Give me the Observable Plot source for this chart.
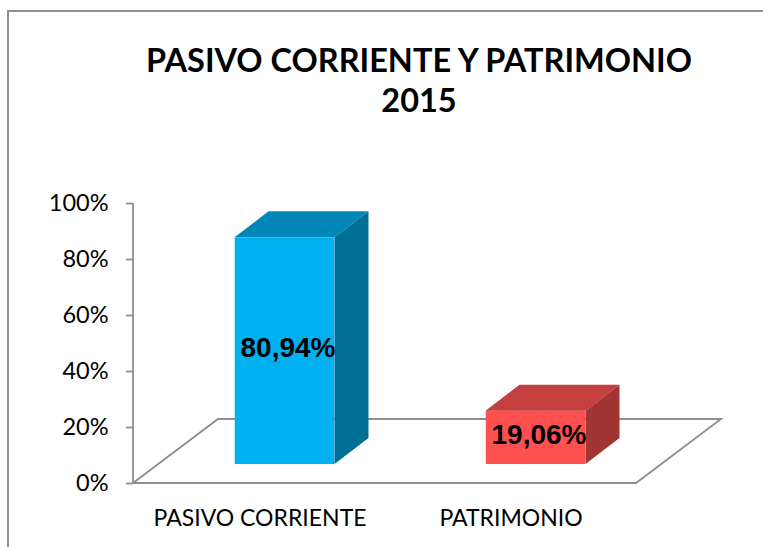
<!DOCTYPE html>
<html>
<head>
<meta charset="utf-8">
<script src="https://cdn.jsdelivr.net/npm/d3@7"></script>
<script src="https://cdn.jsdelivr.net/npm/@observablehq/plot@0.6"></script>
<style>
  html, body { margin: 0; padding: 0; background: #fff; }
  #wrap { position: relative; width: 763px; height: 547px; overflow: hidden; background: #fff; }
  #frame { position: absolute; left: 7px; top: 10px; right: -10px; bottom: -10px;
           border-top: 2px solid #8e8e8e; border-left: 2px solid #8e8e8e; }
  #title { position: absolute; left: 419px; top: 40px; transform: translateX(-50%);
           font-family: Lato, sans-serif; font-weight: 700; font-size: 32.5px; line-height: 40px;
           text-align: center; white-space: nowrap; color: #000; }
  #chart { position: absolute; left: 0; top: 0; }
</style>
</head>
<body>
<div id="wrap">
  <div id="frame"></div>
  <div id="chart"></div>
  <div id="title">PASIVO CORRIENTE Y PATRIMONIO<br>2015</div>
</div>
<script>
// ---- data ----
const categories = ["PASIVO CORRIENTE", "PATRIMONIO"];
const values = [0.8094, 0.1906];
const frontColors = ["#00B0F0", "#FF5050"];
const topColors = ["#0087B8", "#C53F3F"];
const sideColors = ["#006F95", "#A33434"];
const yTicks = [0, 0.2, 0.4, 0.6, 0.8, 1];
const yTickLabels = ["0%", "20%", "40%", "60%", "80%", "100%"];

const locale = d3.formatLocale({decimal: ",", thousands: ".", grouping: [3], currency: ["", "€"]});
const pct = locale.format(".2%");
const data = categories.map((c, i) => ({cat: c, value: values[i], label: pct(values[i]), i}));

// ---- 3D geometry (pixels) ----
const FLOOR_DX = 85, FLOOR_DY = -64;     // floor depth
const BAR_OX = 25, BAR_OY = -19;          // bar front offset from floor front
const BAR_DX = 34, BAR_DY = -26;          // bar depth
const BAR_W = 100;
const GRID = "#8e8e8e";

const svgNS = "http://www.w3.org/2000/svg";
function el(name, attrs) {
  const e = document.createElementNS(svgNS, name);
  for (const k in attrs) e.setAttribute(k, attrs[k]);
  return e;
}
function bandwidthOf(x) {
  if (typeof x.bandwidth === "function") return x.bandwidth();
  if (typeof x.bandwidth === "number") return x.bandwidth;
  return x(categories[1]) - x(categories[0]);
}

// floor + y axis line
function floorMark(index, scales, values, dims) {
  const {y} = scales;
  const g = el("g", {fill: "none", stroke: GRID, "stroke-width": 1.8});
  const x0 = dims.marginLeft, x1 = dims.width - dims.marginRight, y0 = y(0);
  g.appendChild(el("polygon", {points: [
    [x0, y0], [x0 + FLOOR_DX, y0 + FLOOR_DY], [x1 + FLOOR_DX, y0 + FLOOR_DY], [x1, y0]
  ].map(p => p.join(",")).join(" "), "stroke-linejoin": "miter"}));
  g.appendChild(el("line", {x1: x0, x2: x0, y1: y(1), y2: y0}));
  return g;
}

// top and side faces of each bar
function facesMark(index, scales, values, dims) {
  const {x, y} = scales;
  const bw = bandwidthOf(x);
  const g = el("g", {});
  for (const d of data) {
    const cx = x(d.cat) + bw / 2 + BAR_OX;
    const l = cx - BAR_W / 2, r = cx + BAR_W / 2;
    const t = y(d.value) + BAR_OY, b = y(0) + BAR_OY;
    const poly = (pts, fill) => g.appendChild(el("polygon", {
      points: pts.map(p => p.join(",")).join(" "), fill
    }));
    poly([[l, t], [l + BAR_DX, t + BAR_DY], [r + BAR_DX, t + BAR_DY], [r, t]], topColors[d.i]);
    poly([[r, t], [r + BAR_DX, t + BAR_DY], [r + BAR_DX, b + BAR_DY], [r, b]], sideColors[d.i]);
  }
  return g;
}

const chart = Plot.plot({
  width: 763,
  height: 547,
  marginLeft: 133,
  marginRight: 127,
  marginTop: 203,
  marginBottom: 64,
  style: {background: "transparent", overflow: "visible"},
  x: {domain: categories, padding: 0},
  y: {domain: [0, 1]},
  marks: [
    floorMark,
    Plot.axisY({
      ticks: yTicks,
      tickFormat: (d, i) => yTickLabels[yTicks.indexOf(d)],
      tickSize: 7,
      tickPadding: 18,
      stroke: GRID,
      strokeWidth: 1.8,
      fill: "#000",
      fontSize: 23.5,
      fontFamily: "Lato, sans-serif",
      label: null
    }),
    Plot.axisX({
      tickSize: 0,
      tickPadding: 26,
      fill: "#000",
      fontSize: 23,
      fontFamily: "Lato, sans-serif",
      label: null
    }),
    Plot.barY(data, {
      x: "cat",
      y: "value",
      fill: d => frontColors[d.i],
      insetLeft: 75.75,
      insetRight: 75.75,
      dx: BAR_OX,
      dy: BAR_OY
    }),
    facesMark,
    Plot.text(data, {
      x: "cat",
      y: d => d.value / 2,
      text: "label",
      dx: BAR_OX + 3,
      dy: BAR_OY - 3,
      fill: "#000",
      fontSize: 28,
      fontWeight: "bold",
      fontFamily: "Liberation Sans, Arial, sans-serif"
    })
  ]
});
document.getElementById("chart").appendChild(chart);
</script>
</body>
</html>
